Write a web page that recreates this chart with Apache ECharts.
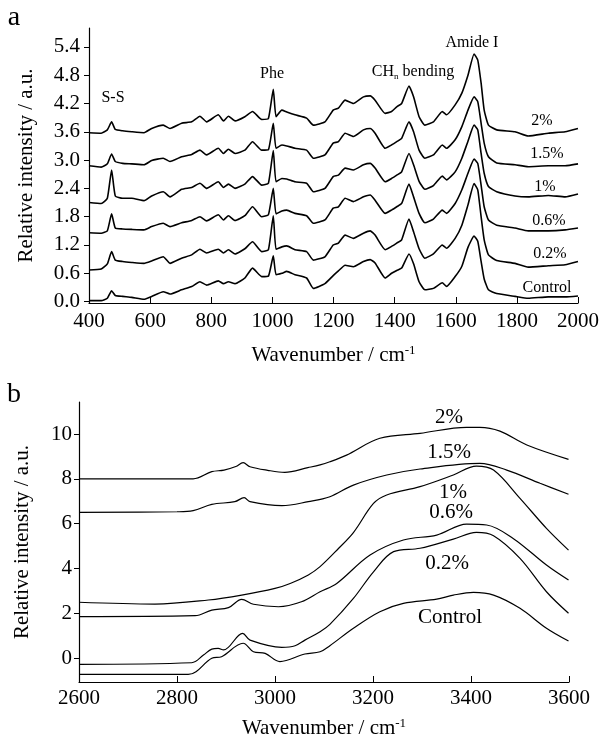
<!DOCTYPE html>
<html>
<head>
<meta charset="utf-8">
<script src="https://cdn.jsdelivr.net/npm/echarts@6/dist/echarts.min.js"></script>
<style>html,body{margin:0;padding:0;background:#fff}#c{width:603px;height:740px}</style>
</head>
<body>
<div id="c"></div>
<script>
// ---------- Panel a (Raman) ----------
const wnA = [400,440,460,474,486,510,540,580,605,643,665,703,736,763,785,823,840,856,878,910,935,965,987,1003,1012,1031,1047,1074,1112,1134,1172,1199,1216,1238,1265,1298,1320,1336,1369,1390,1407,1423,1447,1462,1480,1499,1527,1556,1570,1598,1620,1640,1660,1672,1683,1693,1707,1734,1794,1837,1903,1958,2000];
const ctlA = [0.02,0.02,0.07,0.23,0.13,0.11,0.09,0.05,0.11,0.21,0.16,0.25,0.32,0.42,0.35,0.44,0.38,0.42,0.38,0.50,0.71,0.53,0.54,0.97,0.57,0.60,0.64,0.57,0.50,0.28,0.38,0.55,0.65,0.77,0.74,0.85,0.89,0.82,0.50,0.60,0.66,0.71,1.01,0.80,0.42,0.25,0.28,0.40,0.32,0.53,0.75,1.15,1.39,1.28,0.85,0.48,0.25,0.17,0.11,0.07,0.10,0.10,0.12];
const p02A = [0.67,0.69,0.80,1.06,0.88,0.85,0.83,0.81,0.86,0.95,0.81,0.92,0.99,1.11,1.03,1.11,1.03,1.10,1.01,1.12,1.27,1.06,1.10,1.82,1.11,1.16,1.18,1.10,1.06,0.88,0.95,1.20,1.24,1.41,1.34,1.45,1.50,1.41,1.10,1.17,1.24,1.31,1.75,1.48,1.12,0.92,1.01,1.20,1.13,1.34,1.62,2.05,2.50,2.37,1.80,1.31,0.99,0.87,0.81,0.73,0.76,0.78,0.85];
const p06A = [1.46,1.45,1.50,1.86,1.56,1.54,1.53,1.52,1.59,1.66,1.59,1.67,1.72,1.80,1.71,1.84,1.73,1.82,1.72,1.82,2.01,1.80,1.84,2.40,1.86,1.92,1.94,1.87,1.82,1.66,1.73,1.98,2.01,2.19,2.12,2.22,2.26,2.15,1.87,1.94,2.01,2.08,2.49,2.22,1.87,1.67,1.75,1.94,1.87,2.08,2.37,2.72,3.02,2.93,2.47,2.01,1.73,1.62,1.56,1.50,1.50,1.52,1.56];
const p1A = [2.10,2.08,2.19,2.79,2.24,2.19,2.19,2.14,2.24,2.33,2.22,2.38,2.42,2.51,2.40,2.54,2.42,2.49,2.40,2.49,2.65,2.47,2.51,3.20,2.54,2.61,2.60,2.54,2.51,2.33,2.40,2.65,2.68,2.83,2.79,2.90,2.93,2.83,2.54,2.61,2.68,2.75,3.14,2.90,2.55,2.38,2.46,2.66,2.58,2.75,3.04,3.40,3.74,3.64,3.14,2.72,2.44,2.33,2.24,2.22,2.25,2.22,2.28];
const p15A = [2.88,2.85,2.92,3.13,2.97,2.93,2.92,2.90,2.99,3.04,2.97,3.07,3.12,3.21,3.11,3.25,3.14,3.23,3.14,3.21,3.39,3.21,3.22,3.78,3.25,3.32,3.30,3.25,3.21,3.04,3.11,3.36,3.39,3.57,3.50,3.64,3.67,3.57,3.25,3.32,3.39,3.46,3.81,3.60,3.21,3.04,3.11,3.32,3.25,3.43,3.71,4.06,4.34,4.24,3.78,3.36,3.07,2.94,2.90,2.86,2.88,2.88,2.92];
const p2A = [3.58,3.57,3.64,3.81,3.65,3.62,3.60,3.58,3.67,3.74,3.67,3.78,3.81,3.93,3.81,3.96,3.83,3.93,3.83,3.92,4.03,3.86,3.88,4.50,3.92,4.06,4.02,3.96,3.89,3.74,3.81,4.06,4.10,4.27,4.20,4.34,4.36,4.27,3.99,4.03,4.13,4.20,4.57,4.34,3.92,3.74,3.81,4.03,3.96,4.17,4.42,4.80,5.25,5.12,4.63,4.06,3.74,3.64,3.60,3.51,3.57,3.60,3.67];
const yTicksA = [0,0.6,1.2,1.8,2.4,3.0,3.6,4.2,4.8,5.4];

// ---------- Panel b (IR) ----------
const wn2B = [2600,2833,2871,2896,2920,2935,2949,2985,3020,3067,3092,3112,3146,3214,3296,3391,3418,3459,3514,3599];
const v2B  = [8.0,8.0,8.32,8.39,8.55,8.72,8.54,8.38,8.29,8.50,8.62,8.76,9.06,9.81,10.03,10.30,10.30,10.13,9.51,8.87];
const wn15B = [2600,2800,2833,2871,2918,2937,2949,3014,3068,3112,3160,3228,3296,3418,3473,3541,3599];
const v15B  = [6.50,6.53,6.58,6.86,6.98,7.16,6.98,6.80,6.98,7.20,7.72,8.17,8.44,8.69,8.39,7.80,7.31];
const wn1B = [2600,2755,2864,2932,3000,3031,3068,3092,3130,3160,3201,3228,3296,3364,3411,3446,3500,3554,3599];
const v1B  = [2.49,2.41,2.59,2.81,3.11,3.33,3.71,4.08,4.90,5.60,6.90,7.28,7.65,8.17,8.57,8.39,7.13,5.79,4.82];
const wn06B = [2600,2837,2871,2905,2932,2956,3007,3054,3092,3126,3194,3262,3330,3391,3432,3486,3554,3599];
const v06B  = [1.85,1.89,2.14,2.25,2.62,2.40,2.29,2.51,2.96,3.33,4.60,5.27,5.49,5.98,5.94,5.34,4.15,3.48];
const wn02B = [2600,2830,2854,2871,2884,2895,2934,2949,3014,3041,3061,3092,3112,3160,3201,3242,3296,3364,3411,3446,3500,3554,3599];
const v02B  = [-0.28,-0.21,0.13,0.40,0.43,0.36,1.10,0.80,0.48,0.55,0.80,1.17,1.50,2.66,3.85,4.75,4.90,5.31,5.61,5.46,4.45,2.96,2.00];
const wnCB = [2600,2823,2871,2891,2935,2956,2980,3010,3061,3092,3112,3160,3214,3262,3330,3364,3405,3446,3500,3554,3599];
const vCB  = [-0.73,-0.73,-0.01,0.06,0.66,0.28,0.21,-0.16,0.18,0.28,0.55,1.33,2.07,2.44,2.63,2.81,2.93,2.81,2.22,1.33,0.76];
const yTicksB = [0,2,4,6,8,10];

const FONT = '"Liberation Serif", "Times New Roman", serif';
const zip = (xs, ys) => xs.map((x, i) => [x, ys[i]]);

function lineA(name, vals) {
  return { name, type: 'line', xAxisIndex: 0, yAxisIndex: 0, data: zip(wnA, vals),
    showSymbol: false, symbol: 'none', smooth: 0.15, lineStyle: { color: '#000', width: 1.6 }, silent: true };
}
function lineB(name, xs, ys) {
  return { name, type: 'line', xAxisIndex: 1, yAxisIndex: 1, data: zip(xs, ys),
    showSymbol: false, symbol: 'none', smooth: 0.35, lineStyle: { color: '#000', width: 1.2 }, silent: true };
}
const nameRich = {
  t: { fontFamily: FONT, fontSize: 21, color: '#000' },
  s: { fontFamily: FONT, fontSize: 13, color: '#000', verticalAlign: 'top', padding: [0, 0, 10, 0] }
};
function txt(text, x, y, size, rich) {
  const o = { type: 'text', z: 100, style: { text, x, y, align: 'center', verticalAlign: 'middle',
    fontFamily: FONT, fontSize: size, fill: '#000' } };
  if (rich) o.style.rich = rich;
  return o;
}

const chart = echarts.init(document.getElementById('c'), null, { renderer: 'canvas' });
const axisLineStyle = { onZero: false, lineStyle: { color: '#000', width: 1.2 } };

chart.setOption({
  animation: false,
  backgroundColor: '#fff',
  grid: [
    { left: 89, right: 25, top: 28, bottom: 437 },
    { left: 79, right: 34, top: 402, bottom: 58 }
  ],
  xAxis: [
    { gridIndex: 0, type: 'value', min: 400, max: 2000, interval: 200,
      axisLine: axisLineStyle, splitLine: { show: false },
      axisTick: { inside: true, length: 6, lineStyle: { color: '#000' } },
      axisLabel: { margin: 8, fontFamily: FONT, fontSize: 21, color: '#000', formatter: v => String(v) },
      name: '{t|Wavenumber / cm}{s|-1}', nameLocation: 'middle', nameGap: 41,
      nameTextStyle: { rich: nameRich } },
    { gridIndex: 1, type: 'value', min: 2600, max: 3600, interval: 200,
      axisLine: axisLineStyle, splitLine: { show: false },
      axisTick: { inside: true, length: 6, lineStyle: { color: '#000' } },
      axisLabel: { margin: 6, fontFamily: FONT, fontSize: 21, color: '#000', formatter: v => String(v) },
      name: '{t|Wavenumber / cm}{s|-1}', nameLocation: 'middle', nameGap: 35,
      nameTextStyle: { rich: nameRich } }
  ],
  yAxis: [
    { gridIndex: 0, type: 'value', min: -0.03, max: 5.80,
      axisLine: axisLineStyle, splitLine: { show: false },
      axisTick: { inside: false, length: 5, customValues: yTicksA, lineStyle: { color: '#000' } },
      axisLabel: { margin: 9, fontFamily: FONT, fontSize: 21, color: '#000', customValues: yTicksA,
        formatter: v => v.toFixed(1) },
      name: 'Relative intensity / a.u.', nameLocation: 'middle', nameGap: 52,
      nameTextStyle: { fontFamily: FONT, fontSize: 21, color: '#000' } },
    { gridIndex: 1, type: 'value', min: -1.07, max: 11.43,
      axisLine: axisLineStyle, splitLine: { show: false },
      axisTick: { inside: false, length: 5, customValues: yTicksB, lineStyle: { color: '#000' } },
      axisLabel: { margin: 7, fontFamily: FONT, fontSize: 21, color: '#000', customValues: yTicksB },
      name: 'Relative intensity / a.u.', nameLocation: 'middle', nameGap: 46,
      nameTextStyle: { fontFamily: FONT, fontSize: 21, color: '#000' } }
  ],
  series: [
    lineA('Control', ctlA), lineA('0.2%', p02A), lineA('0.6%', p06A),
    lineA('1%', p1A), lineA('1.5%', p15A), lineA('2%', p2A),
    lineB('Control', wnCB, vCB), lineB('0.2%', wn02B, v02B), lineB('0.6%', wn06B, v06B),
    lineB('1%', wn1B, v1B), lineB('1.5%', wn15B, v15B), lineB('2%', wn2B, v2B)
  ],
  graphic: [
    txt('a', 14, 18, 28), txt('b', 14, 395, 28),
    txt('S-S', 113, 98, 16), txt('Phe', 272, 74, 16),
    txt('{t|CH}{s|n}{t| bending}', 413, 72, 16, {
      t: { fontFamily: FONT, fontSize: 16, color: '#000' },
      s: { fontFamily: FONT, fontSize: 9, color: '#000', padding: [10, 0, 0, 0] } }),
    txt('Amide I', 472, 43, 16),
    txt('2%', 542, 121, 16), txt('1.5%', 547, 154, 16), txt('1%', 545, 187, 16),
    txt('0.6%', 549, 221, 16), txt('0.2%', 550, 254, 16), txt('Control', 547, 288, 16),
    txt('2%', 449, 417, 21), txt('1.5%', 449, 452, 21), txt('1%', 453, 492, 21),
    txt('0.6%', 451, 512, 21), txt('0.2%', 447, 563, 21), txt('Control', 450, 617, 21)
  ]
});
</script>
</body>
</html>
